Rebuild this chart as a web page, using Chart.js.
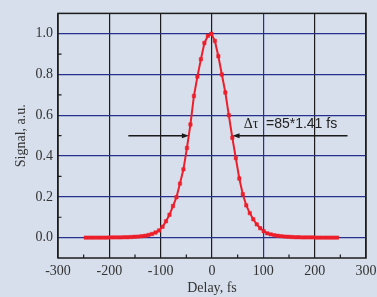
<!DOCTYPE html>
<html>
<head>
<meta charset="utf-8">
<script src="https://cdn.jsdelivr.net/npm/chart.js@4"></script>
<style>
  html,body{margin:0;padding:0;background:#d6dfeb;}
  #wrap{width:377px;height:297px;}
</style>
</head>
<body>
<div id="wrap"><canvas id="chart"></canvas></div>
<script>
// delay values (fs)
const delay=[-246,-239.2,-232.4,-225.6,-218.8,-212,-205.2,-198.4,-191.6,-184.8,-178,-171.2,-164.4,-157.6,-150.8,-144,-137.2,-130.4,-123.6,-116.8,-110,-103.2,-96.4,-89.6,-82.8,-76,-69.2,-62.4,-55.6,-48.8,-42,-35.2,-28.4,-21.6,-14.8,-8,
  -1.2,5.6,12.4,19.2,26,32.8,39.6,46.4,53.2,60,66.8,73.6,80.4,87.2,94,100.8,107.6,114.4,121.2,128,134.8,141.6,148.4,155.2,162,168.8,175.6,182.4,189.2,196,202.8,209.6,216.4,223.2,230,236.8,243.6];
const signal=[0,0,0,0,0,0,0,0.001,0.001,0.001,0.001,0.002,0.002,0.003,0.004,0.005,0.007,0.009,0.013,0.018,0.025,0.035,0.053,0.08,0.112,0.155,0.198,0.265,0.335,0.44,0.555,0.695,0.79,0.875,0.955,0.99,
  1.0,0.965,0.89,0.8,0.712,0.6,0.49,0.39,0.29,0.213,0.158,0.12,0.09,0.065,0.046,0.031,0.021,0.016,0.012,0.009,0.007,0.005,0.004,0.003,0.002,0.002,0.001,0.001,0.001,0.001,0,0,0,0,0,0,0];

const yTicks=[0,0.2,0.4,0.6,0.8,1.0];
const yMinor=[0.1,0.3,0.5,0.7,0.9];
const xMinor=[-250,-150,-50,50,150,250];

// FWHM arrows (data units) and label
const arrowY=0.5;
const leftArrow=[-163,-45];
const rightArrow=[264,40];
const noteText=['Δτ','=85*1.41 fs'];
const noteAt=[62,0.555];

const blue='#27308c';
const dark='#1c1c1c';

const extras={
  id:'extras',
  afterDatasetsDraw(c){
    const ctx=c.ctx, xs=c.scales.x, ys=c.scales.y, a=c.chartArea;
    ctx.save();
    // minor ticks, pointing inward
    ctx.strokeStyle=dark; ctx.lineWidth=1.2;
    ctx.beginPath();
    yMinor.forEach(v=>{const y=ys.getPixelForValue(v);ctx.moveTo(a.left,y);ctx.lineTo(a.left+3.5,y);});
    xMinor.forEach(v=>{const x=xs.getPixelForValue(v);ctx.moveTo(x,a.bottom);ctx.lineTo(x,a.bottom-3.5);});
    ctx.stroke();
    // frame
    ctx.lineWidth=1.5;
    ctx.strokeRect(a.left,a.top,a.right-a.left,a.bottom-a.top);
    // arrows
    const y=ys.getPixelForValue(arrowY);
    const drawArrow=(from,to)=>{
      const x0=xs.getPixelForValue(from), x1=xs.getPixelForValue(to);
      const d=Math.sign(x1-x0);
      ctx.strokeStyle='#1a1a1a'; ctx.lineWidth=1.6;
      ctx.beginPath(); ctx.moveTo(x0,y); ctx.lineTo(x1-d*5,y); ctx.stroke();
      ctx.fillStyle='#1a1a1a';
      ctx.beginPath(); ctx.moveTo(x1,y); ctx.lineTo(x1-d*7,y-2.5); ctx.lineTo(x1-d*7,y+2.5); ctx.closePath(); ctx.fill();
    };
    drawArrow(leftArrow[0],leftArrow[1]);
    drawArrow(rightArrow[0],rightArrow[1]);
    // label
    const tx=xs.getPixelForValue(noteAt[0]), ty=ys.getPixelForValue(noteAt[1]);
    ctx.fillStyle='#222'; ctx.textBaseline='middle'; ctx.textAlign='left';
    ctx.font='14px "Liberation Serif", serif';
    ctx.fillText(noteText[0],tx,ty);
    const w=ctx.measureText(noteText[0]+' ').width;
    ctx.font='14px "Liberation Sans", Arial, sans-serif';
    ctx.fillText(noteText[1],tx+w+4,ty);
    ctx.restore();
  }
};

const serif={family:'"Liberation Serif", "Times New Roman", serif',size:14};

new Chart(document.getElementById('chart'),{
  type:'line',
  data:{
    datasets:[{
      data:delay.map((d,i)=>({x:d,y:signal[i]})),
      borderColor:'#ec1f2b',
      backgroundColor:'#ec1f2b',
      borderWidth:2,
      pointStyle:'rect',
      pointRadius:2.4,
      pointBorderWidth:0.5,
      tension:0
    }]
  },
  options:{
    responsive:true,
    maintainAspectRatio:false,
    animation:false,
    layout:{padding:{top:10,right:11,left:0,bottom:0}},
    plugins:{legend:{display:false},tooltip:{enabled:false}},
    scales:{
      x:{
        type:'linear',min:-300,max:300,
        border:{display:false},
        grid:{drawTicks:false,lineWidth:1.2,color:ctx=>ctx.tick&&ctx.tick.value===100?blue:dark},
        ticks:{stepSize:100,padding:5,color:'#333',font:serif,maxRotation:0},
        title:{display:true,text:'Delay, fs',color:'#333',font:serif,padding:{top:0,bottom:0}},
        afterFit(s){s.height=39;s.paddingLeft=0;s.paddingRight=0;}
      },
      y:{
        min:-0.1,max:1.1,
        border:{display:false},
        grid:{drawTicks:false,lineWidth:1.2,color:blue},
        afterBuildTicks(s){s.ticks=yTicks.map(v=>({value:v}));},
        ticks:{padding:5,color:'#333',font:serif,callback:v=>Number(v).toFixed(1)},
        title:{display:true,text:'Signal, a.u.',color:'#333',font:serif,padding:{top:13,bottom:0}},
        afterFit(s){s.width=58;}
      }
    }
  },
  plugins:[extras]
});
</script>
</body>
</html>
